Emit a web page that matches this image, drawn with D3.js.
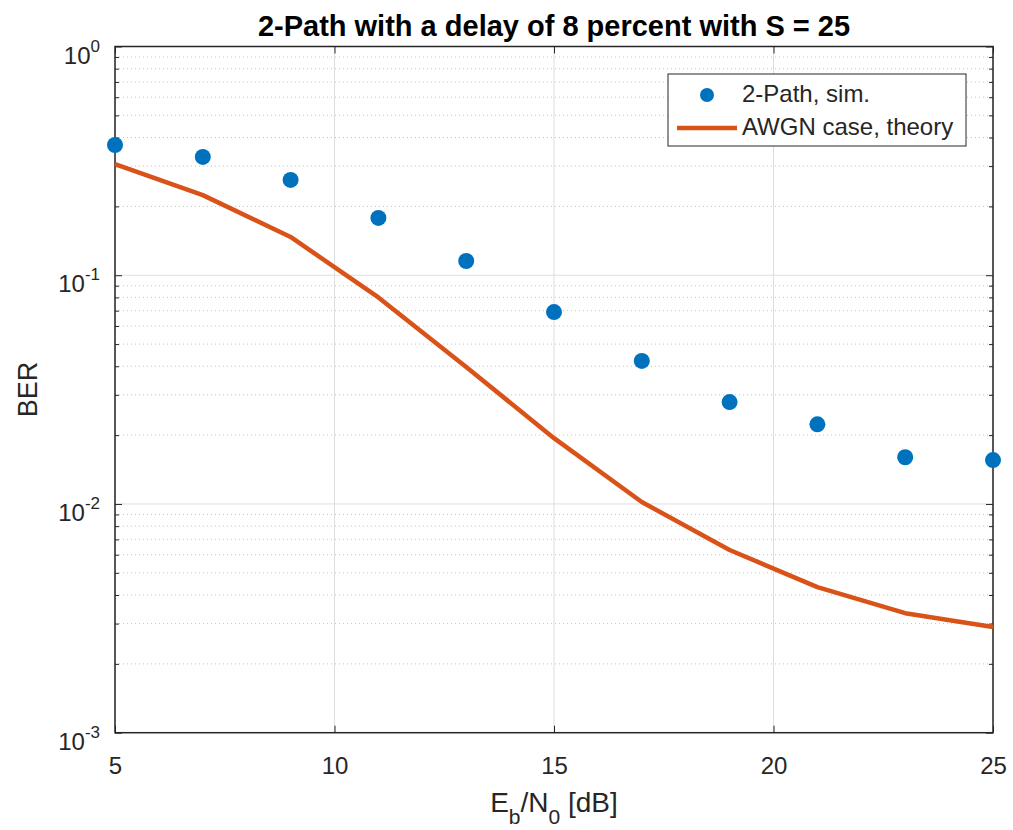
<!DOCTYPE html>
<html>
<head>
<meta charset="utf-8">
<script src="https://cdn.jsdelivr.net/npm/d3@7"></script>
<style>
  body { margin: 0; background: #fff; }
  text { font-family: "Liberation Sans", Arial, sans-serif; fill: #262626; }
</style>
</head>
<body>
<div id="chart"></div>
<script>
// data
const ebn0 = [5, 7, 9, 11, 13, 15, 17, 19, 21, 23, 25];
const simBer = [0.371, 0.329, 0.261, 0.178, 0.1154, 0.069, 0.0422, 0.0279, 0.0223, 0.0160, 0.01556];
const awgnBer = [0.306, 0.224, 0.147, 0.080, 0.0397, 0.0194, 0.0102, 0.00629, 0.00433, 0.00333, 0.0029];
const xTicks = [5, 10, 15, 20, 25];
const yExps = [0, -1, -2, -3];
const seriesNames = ["2-Path, sim.", "AWGN case, theory"];

let W = 1013, H = 830;
let m = {top: 46.5, right: 20, bottom: 97, left: 115};
let w = 993 - m.left;
let h = 732.7 - m.top;

let svg = d3.select("#chart").append("svg")
    .attr("width", W)
    .attr("height", H);

const g = svg.append("g").attr("transform", "translate(" + m.left + "," + m.top + ")");

let x = d3.scaleLinear().domain([5, 25]).range([0, w]);
let y = d3.scaleLog().domain([1e-3, 1]).range([h, 0]);

// minor grid (dotted)
let minor = [];
for (let e = -3; e < 0; e++) {
    for (let k = 2; k <= 9; k++) minor.push(k * Math.pow(10, e));
}
g.append("g").selectAll("line")
    .data(minor)
    .enter().append("line")
    .attr("x1", 0).attr("x2", w)
    .attr("y1", d => y(d)).attr("y2", d => y(d))
    .attr("stroke", "#c4c4c4")
    .attr("stroke-width", 1)
    .attr("stroke-dasharray", "1,3");

// major grid
g.append("g").selectAll("line")
    .data(yExps.map(e => Math.pow(10, e)))
    .enter().append("line")
    .attr("x1", 0).attr("x2", w)
    .attr("y1", d => y(d)).attr("y2", d => y(d))
    .attr("stroke", "#dedede");
g.append("g").selectAll("line")
    .data(xTicks)
    .enter().append("line")
    .attr("x1", d => x(d)).attr("x2", d => x(d))
    .attr("y1", 0).attr("y2", h)
    .attr("stroke", "#dedede");

// axes, ticks pointing inward
const xAxis = d3.axisBottom(x).tickValues(xTicks).tickSizeInner(-7).tickSizeOuter(0).tickPadding(24);
const gx = g.append("g").attr("transform", "translate(0," + h + ")").call(xAxis);
gx.selectAll("text").style("font-size", "24px").attr("fill", "#262626");

const xTop = d3.axisTop(x).tickValues(xTicks).tickSizeInner(-7).tickSizeOuter(0).tickFormat("");
g.append("g").call(xTop);

const yMajor = yExps.map(e => Math.pow(10, e));
const yAxis = d3.axisLeft(y).tickValues(yMajor).tickSizeInner(-7).tickSizeOuter(0).tickFormat("");
g.append("g").call(yAxis);
g.append("g").call(d3.axisLeft(y).tickValues(minor).tickSizeInner(-4).tickSizeOuter(0).tickFormat(""));
g.append("g").attr("transform", "translate(" + w + ",0)")
    .call(d3.axisRight(y).tickValues(yMajor).tickSizeInner(-7).tickSizeOuter(0).tickFormat(""));
g.append("g").attr("transform", "translate(" + w + ",0)")
    .call(d3.axisRight(y).tickValues(minor).tickSizeInner(-4).tickSizeOuter(0).tickFormat(""));
g.selectAll(".domain").remove();
g.selectAll(".tick line").attr("stroke", "#262626");

// y tick labels 10^e
yExps.forEach(e => {
    let t = g.append("text")
        .attr("x", -15)
        .attr("y", y(Math.pow(10, e)) + 17)
        .attr("text-anchor", "end")
        .style("font-size", "24px");
    t.append("tspan").text("10");
    t.append("tspan").attr("dy", -12).style("font-size", "17px").text(e);
});

// box
g.append("rect")
    .attr("width", w).attr("height", h)
    .attr("fill", "none")
    .attr("stroke", "#262626")
    .attr("stroke-width", 1.5);

// AWGN line
const line = d3.line().x((d, i) => x(ebn0[i])).y(d => y(d));
g.append("path")
    .datum(awgnBer)
    .attr("d", line)
    .attr("fill", "none")
    .attr("stroke", "#D95319")
    .attr("stroke-width", 4.5)
    .attr("stroke-linejoin", "round");

// sim points
g.selectAll("circle.sim")
    .data(simBer)
    .enter().append("circle")
    .attr("class", "sim")
    .attr("cx", (d, i) => x(ebn0[i]))
    .attr("cy", d => y(d))
    .attr("r", 8)
    .attr("fill", "#0072BD");

// legend
const legend = svg.append("g").attr("transform", "translate(668,74)");
legend.append("rect")
    .attr("width", 298).attr("height", 72)
    .attr("fill", "#fff")
    .attr("stroke", "#262626")
    .attr("stroke-width", 1);
legend.append("circle").attr("cx", 39).attr("cy", 21).attr("r", 7).attr("fill", "#0072BD");
legend.append("line").attr("x1", 9).attr("x2", 69).attr("y1", 54).attr("y2", 54)
    .attr("stroke", "#D95319").attr("stroke-width", 4.5);
legend.selectAll("text.lg")
    .data(seriesNames)
    .enter().append("text")
    .attr("class", "lg")
    .attr("x", 74)
    .attr("y", (d, i) => 28 + i * 33)
    .style("font-size", "24px")
    .text(d => d);

// title
svg.append("text")
    .attr("x", m.left + w / 2)
    .attr("y", 36)
    .attr("text-anchor", "middle")
    .style("font-size", "29px")
    .style("font-weight", "bold")
    .style("fill", "#000")
    .text("2-Path with a delay of 8 percent with S = 25");

// axis labels
svg.append("text")
    .attr("transform", "translate(37," + (m.top + h / 2) + ") rotate(-90)")
    .attr("text-anchor", "middle")
    .style("font-size", "27px")
    .text("BER");

let xl = svg.append("text")
    .attr("x", m.left + w / 2)
    .attr("y", 812)
    .attr("text-anchor", "middle")
    .style("font-size", "28px");
xl.append("tspan").text("E");
xl.append("tspan").attr("dy", 12).style("font-size", "21px").text("b");
xl.append("tspan").attr("dy", -12).text("/N");
xl.append("tspan").attr("dy", 12).style("font-size", "21px").text("0");
xl.append("tspan").attr("dy", -12).text(" [dB]");
</script>
</body>
</html>
